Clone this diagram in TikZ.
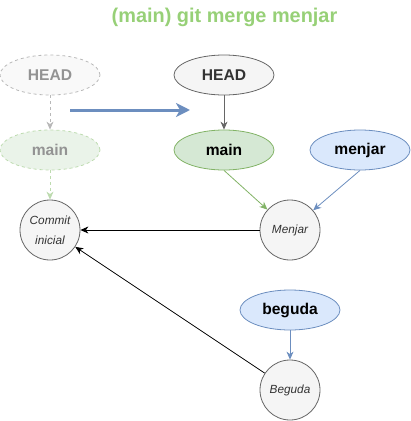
\documentclass[tikz,border=0pt]{standalone}
\usepackage{fontspec}
\setmainfont{Liberation Sans}
\usetikzlibrary{shapes.geometric,arrows.meta}
\definecolor{ttlgreen}{HTML}{97D077}
\definecolor{grfill}{HTML}{F5F5F5}
\definecolor{grline}{HTML}{666666}
\definecolor{txt}{HTML}{333333}
\definecolor{gnfill}{HTML}{D5E8D4}
\definecolor{gnline}{HTML}{82B366}
\definecolor{blfill}{HTML}{DAE8FC}
\definecolor{blline}{HTML}{6C8EBF}
\definecolor{ghfill}{HTML}{F9F9F9}
\definecolor{ghline}{HTML}{B8B8B8}
\definecolor{ghtext}{HTML}{939393}
\definecolor{ggfill}{HTML}{EAF3E9}
\definecolor{ggline}{HTML}{BDDBAF}
\tikzset{
  label/.style={ellipse, minimum width=100pt, minimum height=40pt, inner sep=0pt,
    line width=0.8pt, font=\fontsize{15.6pt}{18pt}\selectfont\bfseries},
  commitnode/.style={circle, minimum size=60pt, inner sep=0pt, draw=grline, fill=grfill,
    line width=0.8pt, align=center, text=txt, font=\fontsize{11.8pt}{20pt}\selectfont\itshape},
  arr/.style={line width=0.8pt, -{Stealth[length=8pt,width=7pt,inset=2.5pt]}},
  ghostdash/.style={dash pattern=on 3pt off 3pt},
}
\begin{document}
\begin{tikzpicture}[x=1pt,y=-1pt]
\useasboundingbox (0,0) rectangle (411,421);
\node[text=ttlgreen, font=\fontsize{19.9pt}{22pt}\selectfont\bfseries] (title) at (224.5,17) {(main) git merge menjar};

\node[label, draw=ghline, fill=ghfill, text=ghtext, ghostdash] (gHEAD) at (50,75) {HEAD};
\node[label, draw=ggline, fill=ggfill, text=ghtext, ghostdash] (gmain) at (50,150) {main};
\node[commitnode] (commit) at (50,230) {Commit\\inicial};

\node[label, draw=grline, fill=grfill, text=txt] (HEAD) at (224,75) {HEAD};
\node[label, draw=gnline, fill=gnfill, text=black] (main) at (224,150) {main};
\node[label, draw=blline, fill=blfill, text=black] (menjar) at (360,150) {menjar};
\node[commitnode] (Menjar) at (290,230) {Menjar};

\node[label, draw=blline, fill=blfill, text=black] (beguda) at (290,310) {beguda};
\node[commitnode] (Beguda) at (290,390) {Beguda};

\coordinate (bs) at (70,110);
\coordinate (be) at (190,110);
\draw[draw=blline, line width=3pt, -{Stealth[length=14pt,width=14pt,inset=4pt]}] (bs) -- (be);

\draw[arr, draw=ghline, ghostdash] (gHEAD) -- (gmain);
\draw[arr, draw=ggline, ghostdash] (gmain) -- (commit);
\draw[arr, draw=grline] (HEAD) -- (main);
\draw[arr, draw=gnline] (main.south) -- (Menjar);
\draw[arr, draw=blline] (menjar.south) -- (Menjar);
\draw[arr, draw=black] (Menjar) -- (commit);
\draw[arr, draw=blline] (beguda) -- (Beguda);
\draw[arr, draw=black] (Beguda) -- (commit);
\end{tikzpicture}
\end{document}
